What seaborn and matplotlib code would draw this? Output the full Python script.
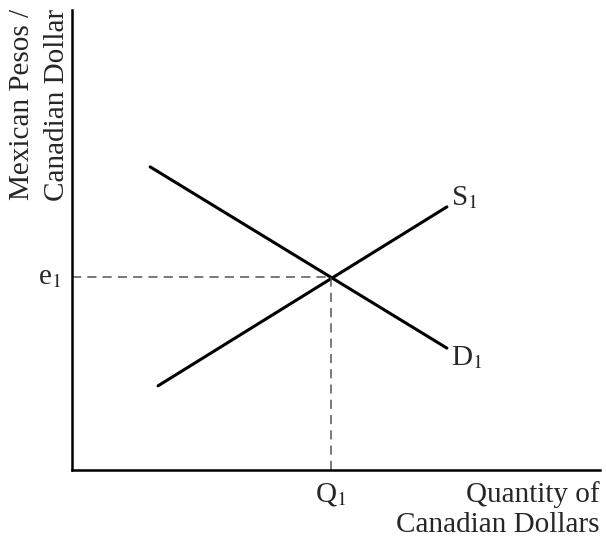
import matplotlib
matplotlib.use("Agg")
import matplotlib.pyplot as plt
import seaborn as sns
import pandas as pd

sns.set_theme(style="white")
plt.rcParams['font.family'] = ['Liberation Serif', 'DejaVu Serif']
plt.rcParams['mathtext.fontset'] = 'stix'

# Data (abstract units)
demand_x = [1.48, 7.10]
demand_y = [6.59, 2.65]
supply_x = [1.63, 7.10]
supply_y = [1.83, 5.72]
eq_x = 4.91
eq_y = 4.19

fig = plt.figure(figsize=(6.06, 5.39), dpi=100)
ax = fig.add_axes([72/606, (539-470)/539, 528/606, 460/539])

df_d = pd.DataFrame({'x': demand_x, 'y': demand_y})
df_s = pd.DataFrame({'x': supply_x, 'y': supply_y})
sns.lineplot(data=df_d, x='x', y='y', ax=ax, color='black', lw=2.2, sort=False)
sns.lineplot(data=df_s, x='x', y='y', ax=ax, color='black', lw=2.2, sort=False)

ax.plot([0, eq_x], [eq_y, eq_y], color='#555555', lw=1.1, ls=(0, (6, 4)))
ax.plot([eq_x, eq_x], [0, eq_y], color='#555555', lw=1.1, ls=(0, (6, 4)))

ax.set_xlim(0, 10)
ax.set_ylim(0, 10)
ax.set_xticks([])
ax.set_yticks([])
ax.set_xlabel('')
ax.set_ylabel('')
for s in ['top', 'right']:
    ax.spines[s].set_visible(False)
for s in ['left', 'bottom']:
    ax.spines[s].set_color('black')
    ax.spines[s].set_linewidth(1.8)

fs = 21
ax.text(supply_x[1] + 0.07, supply_y[1] + 0.2, r'S$_1$', fontsize=fs, ha='left', va='center')
ax.text(demand_x[1] + 0.07, demand_y[1] - 0.2, r'D$_1$', fontsize=fs, ha='left', va='center')
ax.text(-0.2, eq_y, r'e$_1$', fontsize=fs, ha='right', va='center')
ax.text(eq_x, -0.25, r'Q$_1$', fontsize=fs, ha='center', va='top')
ax.text(10, -0.25, 'Quantity of\nCanadian Dollars', fontsize=fs, ha='right', va='top',
        linespacing=1.2)
fig.text(22/606, 1 - 9/539, 'Mexican Pesos /', fontsize=fs, rotation=90, ha='center', va='top')
fig.text(57/606, 1 - 9/539, 'Canadian Dollar', fontsize=fs, rotation=90, ha='center', va='top')

fig.savefig('out.png', dpi=100)
